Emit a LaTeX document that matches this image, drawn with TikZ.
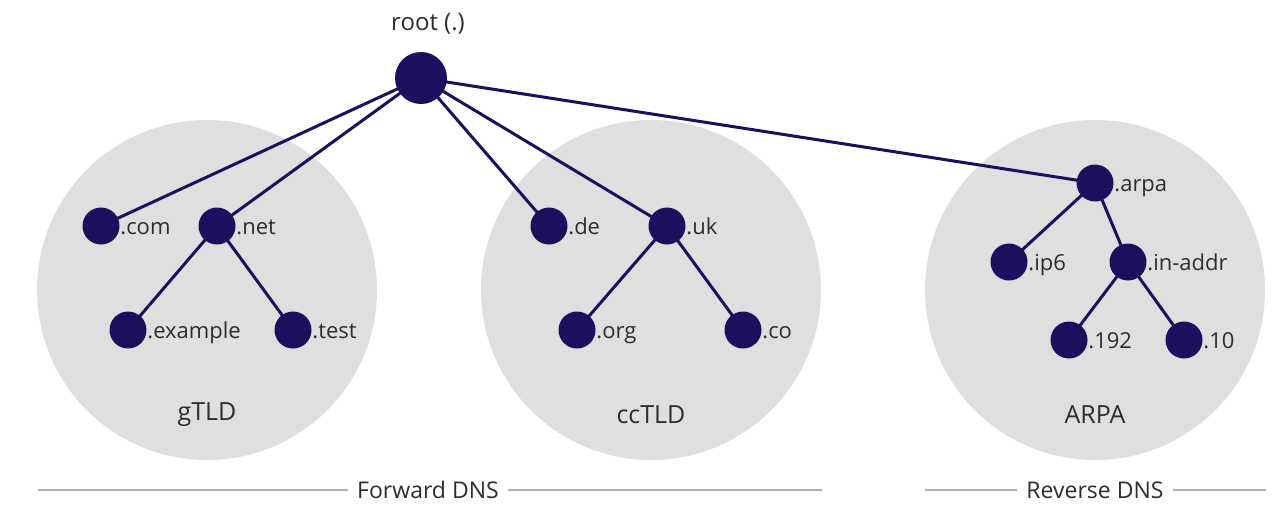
\documentclass[tikz,border=0pt]{standalone}
\usepackage{fontspec}
\setmainfont{Open Sans}
\definecolor{navy}{RGB}{26,16,94}
\definecolor{zone}{RGB}{223,223,223}
\definecolor{rulec}{RGB}{175,175,175}
\definecolor{txt}{RGB}{45,45,45}
\pgfdeclarelayer{zones}
\pgfdeclarelayer{links}
\pgfsetlayers{zones,links,main}
\begin{document}
\begin{tikzpicture}[x=1pt,y=-1pt,
  dot/.style={circle,fill=navy,minimum size=37pt,inner sep=0pt},
  bigdot/.style={circle,fill=navy,minimum size=52pt,inner sep=0pt},
  lbl/.style={anchor=base west,yshift=-8pt,inner sep=0.5pt,font=\fontsize{22}{26}\selectfont,text=txt},
  zonelbl/.style={font=\fontsize{25}{30}\selectfont,text=txt,inner sep=0pt},
  seclbl/.style={font=\fontsize{23}{28}\selectfont,text=txt,inner sep=0pt,fill=white},
  zonec/.style={circle,fill=zone,minimum size=340pt,inner sep=0pt},
  link/.style={draw=navy,line width=3pt},
  sep/.style={draw=rulec,line width=1.3pt}]
\useasboundingbox (0,0) rectangle (1284,512);

\begin{pgfonlayer}{zones}
\fill[white] (0,0) rectangle (1284,512);
\node[zonec] (gz) at (207,290) {};
\node[zonec] (cz) at (651,290) {};
\node[zonec] (az) at (1095,290) {};
\end{pgfonlayer}

\node[zonelbl] (gl) at (207,415) {gTLD};
\node[zonelbl] (cl) at (651,415) {ccTLD};
\node[zonelbl] (al) at (1095,415) {ARPA};

\node[bigdot] (root) at (421,78) {};
\node[font=\fontsize{24}{28}\selectfont,text=txt,inner sep=0pt] (rootl) at (428,24) {root (.)};

\node[dot] (com) at (101,226) {};
\node[dot] (net) at (217,226) {};
\node[dot] (example) at (128,330) {};
\node[dot] (test) at (293,330) {};
\node[dot] (de) at (549,226) {};
\node[dot] (uk) at (667,226) {};
\node[dot] (org) at (577,330) {};
\node[dot] (co) at (743,330) {};
\node[dot] (arpa) at (1095,183) {};
\node[dot] (ip6) at (1009,262) {};
\node[dot] (inaddr) at (1128,262) {};
\node[dot] (n192) at (1069,340) {};
\node[dot] (n10) at (1184,340) {};

\foreach \n/\t in {com/.com,net/.net,example/.example,test/.test,de/.de,uk/.uk,org/.org,co/.co,arpa/.arpa,ip6/.ip6,inaddr/.in-addr,n192/.192,n10/.10}
  \node[lbl] (\n-l) at (\n.east) {\t};

\begin{pgfonlayer}{links}
\draw[link] (root.center) -- (com.center);
\draw[link] (root.center) -- (net.center);
\draw[link] (root.center) -- (de.center);
\draw[link] (root.center) -- (uk.center);
\draw[link] (root.center) -- (arpa.center);
\draw[link] (net.center) -- (example.center);
\draw[link] (net.center) -- (test.center);
\draw[link] (uk.center) -- (org.center);
\draw[link] (uk.center) -- (co.center);
\draw[link] (arpa.center) -- (ip6.center);
\draw[link] (arpa.center) -- (inaddr.center);
\draw[link] (inaddr.center) -- (n192.center);
\draw[link] (inaddr.center) -- (n10.center);
\end{pgfonlayer}

\coordinate (f1) at (38,490);
\coordinate (f2) at (822,490);
\coordinate (r1) at (925,490);
\coordinate (r2) at (1266,490);
\draw[sep] (f1) -- (f2);
\draw[sep] (r1) -- (r2);
\node[seclbl,inner xsep=9pt] (fwd) at (428,490) {Forward DNS};
\node[seclbl,inner xsep=9pt] (rev) at (1095,490) {Reverse DNS};
\end{tikzpicture}
\end{document}
